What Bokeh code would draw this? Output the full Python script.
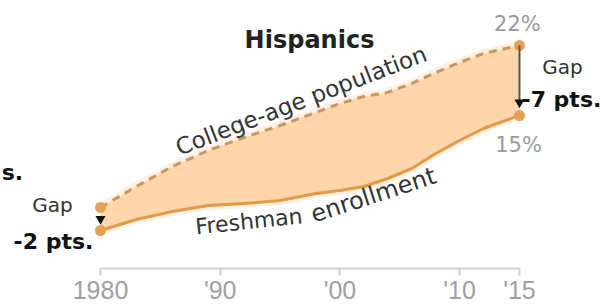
import math
from bokeh.plotting import figure
from bokeh.models import ColumnDataSource, FixedTicker, Range1d
from bokeh.embed import file_html
from bokeh.resources import INLINE
from bokeh.core.properties import value

# ---- data ----
years = [1980, 1983, 1986, 1989, 1992, 1995, 1998, 2000, 2002, 2004, 2006, 2008, 2010, 2012, 2015]
population = [5.8, 7.9, 9.9, 11.5, 12.8, 14.0, 15.3, 16.2, 16.9, 17.3, 18.2, 19.3, 20.3, 21.2, 22.0]
enrollment = [3.5, 4.6, 5.4, 6.0, 6.2, 6.5, 7.2, 7.5, 7.9, 8.7, 9.7, 11.2, 12.5, 13.7, 15.0]
tick_years = [1980, 1990, 2000, 2010, 2015]
tick_labels = ["1980", "'90", "'00", "'10", "'15"]
gap_start = "-2 pts."
gap_end = "-7 pts."
start_label = "22%"
end_label = "15%"

# ---- figure ----
X0, X1, Y0, Y1 = 1971.646, 2022.52, -4.1, 26.5
W, H = 609, 306
p = figure(width=W, height=H,
           x_range=Range1d(X0, X1), y_range=Range1d(Y0, Y1),
           output_backend="svg", toolbar_location=None,
           y_axis_location=None, min_border=0)
p.xgrid.visible = False
p.ygrid.visible = False
p.outline_line_color = None
p.background_fill_color = "white"
p.border_fill_color = "white"

xa = p.xaxis[0]
xa.fixed_location = -0.3
xa.ticker = FixedTicker(ticks=tick_years)
xa.major_label_overrides = {y: l for y, l in zip(tick_years, tick_labels)}
xa.bounds = (tick_years[0], tick_years[-1])
xa.axis_line_color = "#cfcfcf"
xa.axis_line_width = 2
xa.major_tick_line_color = "#cfcfcf"
xa.major_tick_line_width = 2
xa.major_tick_in = 0
xa.major_tick_out = 7
xa.minor_tick_line_color = None
xa.major_label_text_font = "Liberation Sans"
xa.major_label_text_font_size = "25px"
xa.major_label_text_color = "#a0a0a0"
xa.major_label_standoff = 0

src = ColumnDataSource(dict(year=years, pop=population, enr=enrollment))

# soft halo + fill
p.line("year", "pop", source=src, line_width=9, line_color="#fef0e2")
p.line("year", "enr", source=src, line_width=9, line_color="#fef0e2")
p.varea(x="year", y1="enr", y2="pop", source=src, fill_color="#fdd6ab")
p.line("year", "pop", source=src, line_width=3, line_color="#c9975f", line_dash="8 6")
p.line("year", "enr", source=src, line_width=3, line_color="#e09a48")

# end dots
p.scatter(x=[years[0], years[0], years[-1], years[-1]],
          y=[population[0], enrollment[0], population[-1], enrollment[-1]],
          size=11, fill_color="#e4a055", line_color=None)

# gap arrows
p.scatter(x=[years[0]], y=[(population[0] + enrollment[0]) / 2], marker="inverted_triangle",
          size=10, fill_color="#111111", line_color=None)
p.segment(x0=[years[-1]], y0=[population[-1]], x1=[years[-1]], y1=[enrollment[-1] + 1.2],
          line_color="#555555", line_width=2)
p.scatter(x=[years[-1]], y=[enrollment[-1] + 1.3], marker="inverted_triangle",
          size=10, fill_color="#111111", line_color=None)

PX_X = W / (X1 - X0)   # pixels per year
PX_Y = H / (Y1 - Y0)   # pixels per point


def txt(x, y, s, size, color, bold=False, align="center", angle=0, font="DejaVu Sans"):
    # raise the text so that its baseline sits on (x, y)
    k = 0.28 * size
    a = math.radians(angle)
    x = x - k * math.sin(a) / PX_X
    y = y + k * math.cos(a) / PX_Y
    p.text(x=[x], y=[y], text=[s], text_font=value(font), text_font_size=value(f"{size}px"),
           text_font_style="bold" if bold else "normal", text_color=color,
           text_align=align, text_baseline="alphabetic", angle=angle, angle_units="deg")


txt(1997.46, 21.9, "Hispanics", 24, "#222222", bold=True)
txt(2014.83, 23.6, start_label, 21, "#9a9a9a")
txt(2014.92, 11.5, end_label, 21, "#9a9a9a")
txt(2018.59, 19.3, "Gap", 20, "#333333")
txt(2015.17, 16.0, gap_end, 22, "#111111", bold=True, align="left")
txt(1975.99, 5.5, "Gap", 20, "#333333")
txt(1976.07, 1.8, gap_start, 22, "#111111", bold=True)
txt(1971.75, 8.7, "s.", 22, "#111111", bold=True, align="left")
txt(1996.96, 15.9, "College-age population", 23, "#333333", angle=21)
txt(1992.45, 3.8, "Freshman", 22, "#333333", angle=6)
txt(2002.97, 6.4, "enrollment", 24, "#333333", angle=18)

open("out.html", "w").write(file_html(p, INLINE))
